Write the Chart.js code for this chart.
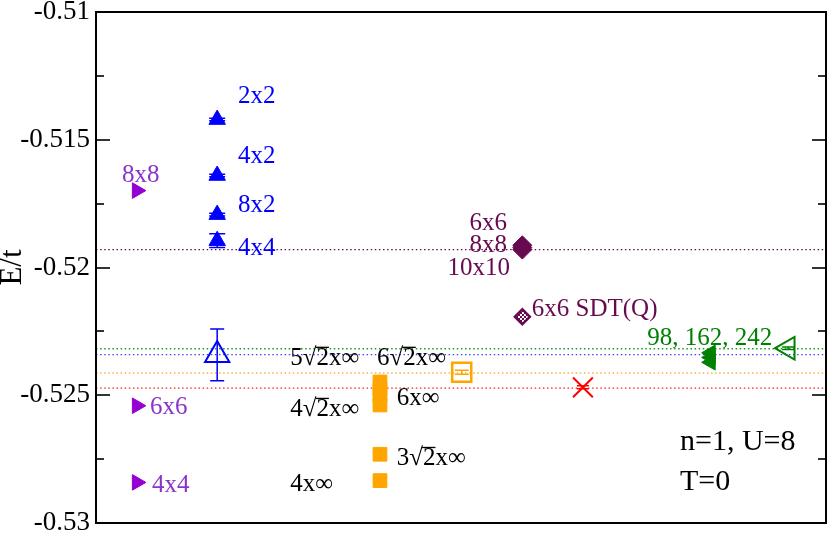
<!DOCTYPE html>
<html>
<head>
<meta charset="utf-8">
<script src="https://cdn.jsdelivr.net/npm/chart.js@4.4.0/dist/chart.umd.min.js"></script>
<style>
  html, body { margin: 0; padding: 0; background: #fff; }
</style>
</head>
<body>
<canvas id="c" width="830" height="536"></canvas>
<script>
// E/t values
var blueX = [1.66, 1.66, 1.66, 1.66];
var blueE = [-0.51421, -0.51640, -0.51793, -0.51895];
var blueErr = [0.00005, 0.00005, 0.00005, 0.00027];

var blueOpenX = [1.66];
var blueOpenE = [-0.52342];
var blueOpenErr = [0.00101];

var purpleX = [0.56, 0.56, 0.56];
var purpleE = [-0.51699, -0.52541, -0.52841];

var orangeX = [3.89, 3.89, 3.89, 3.89, 3.89, 3.89];
var orangeE = [-0.52448, -0.52476, -0.52503, -0.52538, -0.52731, -0.52834];
var orangeErr = [0.00008, 0.00008, 0.00008, 0.00008, 0.00008, 0.00008];

var orangeOpenX = [5.01];
var orangeOpenE = [-0.52410];
var orangeOpenErr = [0.00008];

var maroonX = [5.84, 5.84, 5.84];
var maroonE = [-0.51913, -0.51922, -0.51930];

var sdtX = [5.84];
var sdtE = [-0.52193];

var redX = [6.67];
var redE = [-0.52469];
var redErr = [0.00006];

var greenX = [8.42, 8.42, 8.42];
var greenE = [-0.52334, -0.52352, -0.52371];
var greenErr = [0.0001, 0.0001, 0.0001];

var greenOpenX = [9.48];
var greenOpenE = [-0.52316];
var greenOpenErr = [0.00005];

// reference (extrapolated) levels, dotted
var refLevels = [-0.51930, -0.52318, -0.52341, -0.52413, -0.52472];

var yTicks = [-0.53, -0.525, -0.52, -0.515, -0.51];
var yMinor = [-0.5275, -0.5225, -0.5175, -0.5125];

// annotations, anchored in data units
var labelText = ['2x2', '4x2', '8x2', '4x4',
  '8x8', '6x6', '4x4',
  '6x6', '8x8', '10x10', '6x6 SDT(Q)',
  '98, 162, 242',
  '5\u221A2x\u221E', '6\u221A2x\u221E', '6x\u221E', '4\u221A2x\u221E', '3\u221A2x\u221E', '4x\u221E',
  'n=1, U=8', 'T=0'];
var labelX = [1.945, 1.945, 1.945, 1.945,
  0.356, 0.74, 0.767,
  5.63, 5.63, 5.67, 5.97,
  7.55,
  2.66, 3.85, 4.12, 2.66, 4.12, 2.66,
  8.0, 8.0];
var labelY = [-0.51325, -0.51560, -0.51749, -0.51919,
  -0.51634, -0.52541, -0.52847,
  -0.51822, -0.51908, -0.51998, -0.52159,
  -0.52272,
  -0.52350, -0.52350, -0.52507, -0.52550, -0.52742, -0.52843,
  -0.52675, -0.52832];
var labelGroup = ['b', 'b', 'b', 'b', 'p', 'p', 'p', 'm', 'm', 'm', 'm', 'g',
  'k', 'k', 'k', 'k', 'k', 'k', 'K', 'K'];

var BLUE = '#0000ff', PURPLE = '#9400d3', ORANGE = '#ffa500', MAROON = '#670a4f',
    RED = '#ff0000', GREEN = '#008000';
var groupColor = { b: BLUE, p: '#8a35c8', m: MAROON, g: GREEN, k: '#000', K: '#000' };
var refColors = [MAROON, '#1a9a1a', '#4040ff', '#ffb040', '#ff2020'];

function pts(xs, ys) {
  return xs.map(function (x, i) { return { x: x, y: ys[i] }; });
}

// checkered fill for the SDT(Q) diamond
var pc = document.createElement('canvas');
pc.width = 4; pc.height = 4;
var pg = pc.getContext('2d');
pg.fillStyle = '#fff'; pg.fillRect(0, 0, 4, 4);
pg.fillStyle = MAROON; pg.fillRect(0, 0, 2, 2); pg.fillRect(2, 2, 2, 2);
var checker = pg.createPattern(pc, 'repeat');

var datasets = [];
refLevels.forEach(function (v, i) {
  datasets.push({
    type: 'line', data: [{ x: 0, y: v }, { x: 10, y: v }],
    borderColor: refColors[i], borderWidth: 1.4, borderDash: [1.5, 2.6],
    pointRadius: 0, fill: false, order: 10
  });
});

function sc(xs, ys, o) {
  return {
    type: 'scatter', data: pts(xs, ys), showLine: false, order: 1,
    pointStyle: o.style, pointRadius: o.r, pointRotation: o.rot || 0,
    backgroundColor: o.fill, borderColor: o.line, pointBorderWidth: o.bw || 1,
    errors: o.err || null, capW: o.cap || 0
  };
}

datasets.push(sc(purpleX, purpleE, { style: 'triangle', r: 9, rot: 90, fill: PURPLE, line: PURPLE }));
datasets.push(sc(blueX, blueE, { style: 'triangle', r: 9.5, fill: BLUE, line: BLUE, err: blueErr, cap: 16 }));
datasets.push(sc(blueOpenX, blueOpenE, { style: 'triangle', r: 14, fill: 'rgba(0,0,0,0)', line: BLUE, bw: 2, err: blueOpenErr, cap: 14 }));
datasets.push(sc(orangeX, orangeE, { style: 'rect', r: 9.7, fill: ORANGE, line: ORANGE, err: orangeErr, cap: 14 }));
datasets.push(sc(orangeOpenX, orangeOpenE, { style: 'rect', r: 13.5, fill: 'rgba(0,0,0,0)', line: ORANGE, bw: 2.5, err: orangeOpenErr, cap: 14 }));
datasets.push(sc(maroonX, maroonE, { style: 'rectRot', r: 9.5, fill: MAROON, line: MAROON }));
datasets.push(sc(sdtX, sdtE, { style: 'rectRot', r: 7.5, fill: checker, line: MAROON, bw: 2.5 }));
datasets.push(sc(redX, redE, { style: 'crossRot', r: 14, fill: RED, line: RED, bw: 2, err: redErr, cap: 12 }));
datasets.push(sc(greenX, greenE, { style: 'triangle', r: 9, rot: -90, fill: GREEN, line: GREEN, err: greenErr, cap: 8 }));
datasets.push(sc(greenOpenX, greenOpenE, { style: 'triangle', r: 13, rot: -90, fill: 'rgba(0,0,0,0)', line: GREEN, bw: 2, err: greenOpenErr, cap: 12 }));

var FONT = "'Liberation Serif', serif";

var errorBars = {
  id: 'errorBars',
  afterDatasetsDraw: function (chart) {
    var ctx = chart.ctx, xs = chart.scales.x, ys = chart.scales.y;
    ctx.save();
    chart.data.datasets.forEach(function (ds) {
      if (!ds.errors) return;
      ctx.strokeStyle = ds.borderColor;
      ctx.lineWidth = 1.5;
      ds.data.forEach(function (p, i) {
        var e = ds.errors[i];
        var px = xs.getPixelForValue(p.x);
        var y1 = ys.getPixelForValue(p.y + e), y2 = ys.getPixelForValue(p.y - e);
        var h = ds.capW / 2;
        ctx.beginPath();
        ctx.moveTo(px, y1); ctx.lineTo(px, y2);
        ctx.moveTo(px - h, y1); ctx.lineTo(px + h, y1);
        ctx.moveTo(px - h, y2); ctx.lineTo(px + h, y2);
        ctx.stroke();
      });
    });
    ctx.restore();
  }
};

var frame = {
  id: 'frame',
  afterDraw: function (chart) {
    var ctx = chart.ctx, a = chart.chartArea, ys = chart.scales.y;
    ctx.save();
    ctx.strokeStyle = '#333';
    ctx.lineWidth = 2;
    ctx.beginPath();
    yTicks.forEach(function (v) {
      var py = Math.round(ys.getPixelForValue(v));
      ctx.moveTo(a.left, py); ctx.lineTo(a.left + 14, py);
      ctx.moveTo(a.right, py); ctx.lineTo(a.right - 14, py);
    });
    yMinor.forEach(function (v) {
      var py = Math.round(ys.getPixelForValue(v));
      ctx.moveTo(a.left, py); ctx.lineTo(a.left + 8, py);
      ctx.moveTo(a.right, py); ctx.lineTo(a.right - 8, py);
    });
    ctx.stroke();
    ctx.strokeStyle = '#000';
    ctx.strokeRect(a.left, a.top, a.right - a.left, a.bottom - a.top);
    ctx.restore();
  }
};

var labels = {
  id: 'labels',
  afterDatasetsDraw: function (chart) {
    var ctx = chart.ctx, xs = chart.scales.x, ys = chart.scales.y;
    ctx.save();
    ctx.textBaseline = 'alphabetic';
    labelText.forEach(function (t, i) {
      var g = labelGroup[i];
      var size = g === 'K' ? 30 : 25;
      ctx.font = size + 'px ' + FONT;
      ctx.fillStyle = groupColor[g];
      var right = g === 'm' && i < 10;
      ctx.textAlign = right ? 'right' : 'left';
      var px = xs.getPixelForValue(labelX[i]);
      var base = ys.getPixelForValue(labelY[i]) + 0.33 * size;
      ctx.fillText(t, px, base);
      var k = t.indexOf('\u221A');
      if (k >= 0) {
        // bar over the radicand
        var x0 = px + ctx.measureText(t.slice(0, k + 1)).width - 1;
        var w = ctx.measureText(t.charAt(k + 1)).width + 1;
        ctx.fillRect(x0, base - 0.74 * size, w, 1.3);
      }
    });
    ctx.restore();
  }
};

new Chart(document.getElementById('c'), {
  data: { datasets: datasets },
  options: {
    responsive: false,
    animation: false,
    layout: { autoPadding: false, padding: { top: 12, right: 4, bottom: 13, left: 0 } },
    plugins: { legend: { display: false }, tooltip: { enabled: false } },
    scales: {
      x: { type: 'linear', min: 0, max: 10, display: false },
      y: {
        type: 'linear', min: -0.53, max: -0.51,
        grid: { display: false, drawTicks: false },
        border: { display: false },
        afterBuildTicks: function (s) { s.ticks = yTicks.map(function (v) { return { value: v }; }); },
        afterFit: function (s) { s.width = 96; },
        ticks: {
          autoSkip: false, padding: 6, color: '#000',
          font: { family: FONT, size: 27, lineHeight: 0.4 },
          callback: function (v) { return String(Number(v.toFixed(4))); }
        },
        title: {
          display: true, text: 'E/t', color: '#000', padding: 0,
          font: { family: FONT, size: 31, lineHeight: 0.85 }
        }
      }
    }
  },
  plugins: [errorBars, labels, frame]
});
</script>
</body>
</html>
